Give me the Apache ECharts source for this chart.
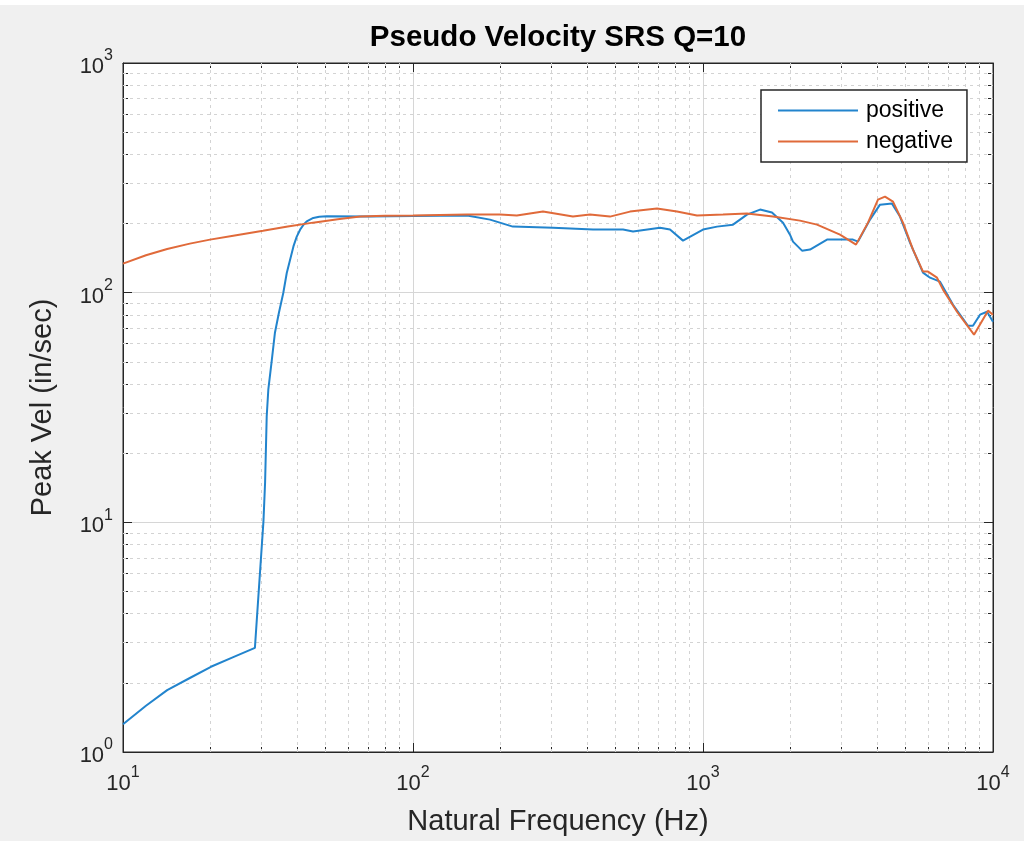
<!DOCTYPE html>
<html>
<head>
<meta charset="utf-8">
<title>Pseudo Velocity SRS Q=10</title>
<script src="https://cdn.jsdelivr.net/npm/echarts@6/dist/echarts.min.js"></script>
<style>
    html, body { margin: 0; padding: 0; background: #f0f0f0; }
    #chart { width: 1024px; height: 841px; }
</style>
</head>
<body>
<div id="chart"></div>
<script>
    // values (Hz, in/sec)
    const posFreq = [10, 12, 14.2, 17, 20.1, 24, 28.5, 30.5, 30.9, 31.3, 31.7, 32.6, 33.4, 34.5, 35.7, 36.7, 38.7, 39.7, 40.8, 42, 43, 45.3, 47.5, 50.4,
        71, 100, 153.6, 184.3, 221, 304, 417.5, 530, 573.8, 710.9, 769.6, 853, 1000, 1118, 1269, 1418, 1573, 1729, 1888,
        1995, 2043, 2195, 2339, 2677, 3290, 3423, 3766, 4077, 4485, 4778, 5173, 5736, 6065, 6566, 7279, 8200, 8531, 9020, 9535, 10000];
    const posVel = [1.32, 1.59, 1.86, 2.1, 2.35, 2.59, 2.84, 10.1, 14.9, 28.9, 37.8, 51, 66.7, 82, 99.7, 121.8, 159, 175, 188, 198, 204.5, 211.5, 214, 215.1,
        214.4, 215.5, 216.6, 208, 193.9, 191.9, 188.2, 188.2, 184.5, 191.9, 188.2, 168.5, 188.2, 193.9, 197.8, 218.8, 230, 223.2, 201.8,
        178.9, 166.8, 152.4, 154, 170.2, 170.2, 166.8, 208, 241.7, 244.2, 214.4, 165.1, 122.2, 116.2, 111.7, 88.6, 71.8, 71.8, 80.2, 82.6, 74.7];

    const negFreq = [10, 12, 14.2, 17, 19.95, 24, 30.4, 37, 45.2, 55, 65.7, 80, 100, 153.6, 199.5, 228, 280.7, 356, 407.6, 477.8, 560, 694, 813.5, 953.4,
        1172, 1418, 1743, 2160, 2473, 2968, 3370, 3707, 4012, 4242, 4520, 4894, 5298, 5736, 5968, 6411, 6724, 7514, 8600, 9612, 10000];
    const negVel = [133.8, 145.5, 155, 163.5, 170.2, 177, 186, 194, 201.8, 209, 214.4, 216, 216.6, 218.8, 218.8, 216.6, 225.4, 214.4, 218.8, 214.4, 225.4, 232.3, 225.4, 216.6,
        218.8, 221, 214.4, 205.9, 197.8, 178.9, 161.9, 201.8, 254.2, 262, 249.2, 201.8, 154, 123.5, 123.5, 116.2, 103.1, 82.6, 65.6, 83.5, 80.2];

    const xRange = [10, 10000];
    const yRange = [1, 1000];

    // minor grid lines at 2..9 of every decade
    function minorSteps(lo, hi) {
        const out = [];
        for (let d = lo; d < hi; d *= 10) {
            for (let k = 2; k <= 9; k++) out.push(d * k);
        }
        return out;
    }
    const xMinor = minorSteps(xRange[0], xRange[1]);
    const yMinor = minorSteps(yRange[0], yRange[1]);

    const FONT = '"Liberation Sans", Arial, Helvetica, sans-serif';
    const AXIS_COLOR = '#262626';

    const tickRich = {
        b: { fontSize: 22, fontFamily: FONT, color: AXIS_COLOR, lineHeight: 30, verticalAlign: 'bottom' },
        s: { fontSize: 16, fontFamily: FONT, color: AXIS_COLOR, verticalAlign: 'top' }
    };
    function powLabel(v) {
        return '{b|10}{s|' + Math.round(Math.log10(v)) + '}';
    }

    const chart = echarts.init(document.getElementById('chart'));

    const boxAxis = {
        type: 'log',
        logBase: 10,
        axisLine: { show: true, lineStyle: { color: AXIS_COLOR, width: 1 } },
        axisTick: { show: true, inside: true, length: 9, lineStyle: { color: AXIS_COLOR, width: 1 } },
        minorTick: { show: true, splitNumber: 9, length: 5, lineStyle: { color: AXIS_COLOR, width: 1 } },
        axisLabel: { show: false },
        splitLine: { show: false }
    };

    chart.setOption({
        backgroundColor: '#f0f0f0',
        animation: false,
        graphic: [{
            type: 'rect',
            left: 0,
            top: 0,
            shape: { width: 1024, height: 5 },
            style: { fill: '#ffffff' },
            silent: true
        }],
        title: {
            text: 'Pseudo Velocity SRS Q=10',
            left: 558,
            top: 23,
            padding: 0,
            textAlign: 'center',
            textStyle: { fontFamily: FONT, fontSize: 29.5, fontWeight: 'bold', color: '#000' }
        },
        grid: {
            left: 123,
            top: 63,
            width: 870,
            height: 690,
            show: true,
            backgroundColor: '#ffffff',
            borderColor: AXIS_COLOR,
            borderWidth: 1
        },
        legend: {
            orient: 'vertical',
            left: 761,
            top: 90,
            padding: [9, 14, 9, 17],
            itemWidth: 80,
            itemHeight: 2,
            itemGap: 8,
            icon: 'rect',
            backgroundColor: '#ffffff',
            borderColor: AXIS_COLOR,
            borderWidth: 1.5,
            borderRadius: 0,
            textStyle: { fontFamily: FONT, fontSize: 23, color: '#000', padding: [0, 0, 0, 3] },
            data: ['positive', 'negative']
        },
        xAxis: [Object.assign({}, boxAxis, {
            min: xRange[0],
            max: xRange[1],
            position: 'bottom',
            name: 'Natural Frequency (Hz)',
            nameLocation: 'middle',
            nameGap: 55,
            nameTextStyle: { fontFamily: FONT, fontSize: 29, color: AXIS_COLOR },
            axisLabel: { show: true, margin: 13, formatter: powLabel, rich: tickRich },
            splitLine: { show: true, lineStyle: { color: '#d6d6d6', width: 1 } }
        }), Object.assign({}, boxAxis, {
            min: xRange[0],
            max: xRange[1],
            position: 'top'
        })],
        yAxis: [Object.assign({}, boxAxis, {
            min: yRange[0],
            max: yRange[1],
            position: 'left',
            name: 'Peak Vel (in/sec)',
            nameLocation: 'middle',
            nameGap: 66,
            nameTextStyle: { fontFamily: FONT, fontSize: 29, color: AXIS_COLOR },
            axisLabel: { show: true, margin: 10, formatter: powLabel, rich: tickRich },
            splitLine: { show: true, lineStyle: { color: '#d6d6d6', width: 1 } }
        }), Object.assign({}, boxAxis, {
            min: yRange[0],
            max: yRange[1],
            position: 'right'
        })],
        series: [{
            name: 'minor-grid',
            type: 'line',
            data: [],
            silent: true,
            z: 1,
            markLine: {
                silent: true,
                z: 1,
                symbol: 'none',
                label: { show: false },
                lineStyle: { color: '#d3d3d3', width: 1, type: [3, 4] },
                data: xMinor.map(v => ({ xAxis: v })).concat(yMinor.map(v => ({ yAxis: v })))
            }
        }, {
            name: 'positive',
            type: 'line',
            z: 3,
            symbol: 'none',
            smooth: false,
            lineStyle: { color: '#2284cd', width: 2 },
            itemStyle: { color: '#2284cd' },
            data: posFreq.map((f, i) => [f, posVel[i]])
        }, {
            name: 'negative',
            type: 'line',
            z: 3,
            symbol: 'none',
            smooth: false,
            lineStyle: { color: '#e06a3a', width: 2 },
            itemStyle: { color: '#e06a3a' },
            data: negFreq.map((f, i) => [f, negVel[i]])
        }]
    });

    window.onresize = () => chart.resize();
</script>
</body>
</html>
